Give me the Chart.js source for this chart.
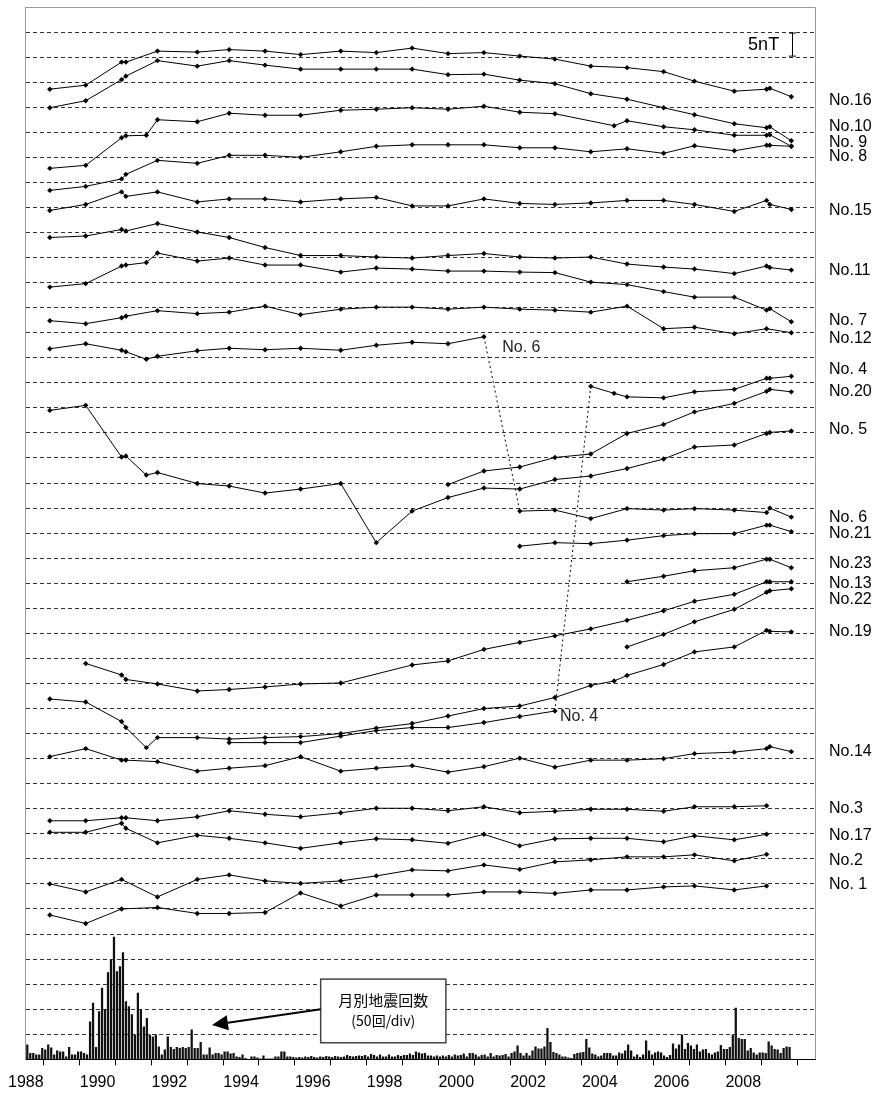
<!DOCTYPE html>
<html>
<head>
<meta charset="utf-8">
<script src="https://cdn.jsdelivr.net/npm/chart.js@4/dist/chart.umd.min.js"></script>
<style>
  html, body { margin: 0; padding: 0; background: #fff; }
  canvas { display: block; }
</style>
</head>
<body>
<canvas id="chart" width="876" height="1097"></canvas>
<script>
// Survey epochs (decimal year) shared by all magnetometer stations
const surveyYears = [1988.67, 1989.67, 1990.67, 1990.79, 1991.36, 1991.67, 1992.78, 1993.67, 1994.67, 1995.66,
  1996.78, 1997.77, 1998.77, 1999.77, 2000.77, 2001.77, 2002.75, 2003.75, 2004.4, 2004.76,
  2005.78, 2006.64, 2007.75, 2008.65, 2008.74, 2009.34];

// Total-field values per station (nT, stacked with offsets; 5 nT per division), null = not surveyed
const no16 = [193.6, 194.4, 199.0, 199.0, null, 201.2, 201.0, 201.5, 201.2, 200.5, 201.2, 200.9, 201.8, 200.7, 200.9, 200.2, 199.6, 198.2, null, 197.9, 197.1, 195.2, 193.2, 193.6, 193.8, 192.1];
const no10 = [189.9, 191.3, 195.5, 196.2, null, 199.3, 198.2, 199.3, 198.4, 197.6, 197.6, 197.6, 197.6, 196.5, 196.6, 195.4, 194.7, 192.7, null, 191.6, 189.9, 188.5, 186.7, 185.9, 186.1, 183.3];
const no9  = [177.8, 178.4, 183.9, 184.3, 184.4, 187.5, 187.1, 188.8, 188.4, 188.4, 189.4, 189.6, 189.9, 189.6, 190.2, 189.0, 188.7, null, 186.3, 187.3, 186.1, 185.5, 184.4, 184.4, 184.5, 182.2];
const no8  = [173.4, 174.2, 175.7, 176.6, null, 179.4, 178.8, 180.4, 180.4, 180.0, 181.1, 182.2, 182.5, 182.5, 182.5, 181.9, 181.9, 181.1, null, 181.7, 180.8, 182.3, 181.3, 182.4, 182.4, 182.2];
const no15 = [169.4, 170.6, 173.1, 172.2, null, 173.1, 171.1, 171.7, 171.7, 171.1, 171.7, 172.0, 170.3, 170.3, 171.7, 170.8, 170.6, 170.9, null, 171.4, 171.4, 170.6, 169.2, 171.4, 170.6, 169.6];
const no11 = [164.0, 164.3, 165.6, 165.3, null, 166.8, 165.1, 164.0, 162.0, 160.4, 160.4, 160.1, 159.9, 160.4, 160.8, 160.1, 159.9, 160.1, null, 158.7, 158.1, 157.7, 156.8, 158.3, 158.0, 157.5];
const no7  = [154.1, 154.8, 158.3, 158.5, 159.0, 160.9, 159.3, 159.9, 158.5, 158.5, 157.1, 157.9, 157.7, 157.3, 157.3, 157.1, 157.0, 155.1, null, 154.6, 153.2, 152.1, 152.1, 149.5, 149.8, 147.2];
const no12 = [147.4, 146.8, 148.0, 148.3, null, 149.4, 148.8, 149.1, 150.3, 148.6, 149.7, 150.1, 150.1, 149.7, 150.1, 149.7, 149.5, 149.1, null, 150.3, 145.8, 146.1, 144.8, 145.8, null, 145.0];
const no6  = [141.8, 142.8, 141.5, 141.2, 139.7, 140.3, 141.4, 141.9, 141.6, 141.9, 141.5, 142.5, 143.1, 142.8, 144.2, 109.4, 109.6, 107.9, null, 109.9, 109.6, 109.9, 109.6, 109.1, 110.0, 108.2];
const no4  = [null, null, null, null, null, null, null, 63.2, 63.2, 63.2, 64.5, 65.6, 66.2, 66.2, 67.2, 68.4, 69.5, 134.3, 132.9, 132.2, 132.0, 133.2, 133.7, 135.9, 135.9, 136.3];
const no20 = [null, null, null, null, null, null, null, null, null, null, null, null, null, 114.7, 117.4, 118.2, 120.1, 120.8, null, 124.9, 126.7, 129.2, 130.9, 133.3, 133.7, 133.2];
const no5  = [129.5, 130.5, 120.2, 120.4, 116.6, 117.1, 114.9, 114.4, 113.0, 113.8, 114.9, 103.1, 109.4, 112.1, 114.0, 113.8, 115.7, 116.4, null, 117.9, 119.8, 122.2, 122.6, 124.9, 125.1, 125.4];
const no21 = [null, null, null, null, null, null, null, null, null, null, null, null, null, null, null, 102.4, 103.1, 102.9, null, 103.6, 104.5, 104.9, 104.9, 106.6, 106.6, 105.3];
const no23 = [null, null, null, null, null, null, null, null, null, null, null, null, null, null, null, null, null, null, null, 95.3, 96.4, 97.5, 98.1, 99.8, 99.8, 98.1];
const no13 = [null, 79.0, 76.7, 75.8, null, 74.9, 73.5, 73.8, 74.3, 74.9, 75.1, null, 78.7, 79.5, 81.8, 83.2, 84.5, 85.9, null, 87.6, 89.5, 91.4, 92.8, 95.3, 95.3, 95.3];
const no22 = [null, null, null, null, null, null, null, null, null, null, null, null, null, null, null, null, null, null, null, 82.3, 84.8, 87.3, 89.8, 93.2, 93.5, 93.9];
const no19 = [71.9, 71.3, 67.4, 66.2, 62.2, 64.2, 64.2, 63.9, 64.2, 64.4, 65.0, 66.1, 67.0, 68.5, 70.0, 70.5, 72.2, 74.6, 75.5, 76.6, 78.8, 81.3, 82.3, 85.6, 85.4, 85.3];
const no14 = [60.4, 62.0, 59.7, 59.7, null, 59.4, 57.5, 58.1, 58.6, 60.4, 57.5, 58.1, 58.6, 57.3, 58.4, 60.1, 58.3, 59.7, null, 59.7, 60.0, 61.0, 61.3, 62.0, 62.4, 61.4];
const no3  = [47.6, 47.6, 48.2, 48.2, null, 47.6, 48.4, 49.6, 48.9, 48.4, 49.2, 50.1, 50.1, 49.6, 50.4, 49.2, 49.5, 49.9, null, 49.9, 49.5, 50.4, 50.4, 50.6, null, null];
const no17 = [45.3, 45.3, 47.1, 46.1, null, 43.2, 44.7, 44.1, 43.2, 42.1, 43.2, 44.0, 43.8, 43.1, 44.9, 42.6, 44.0, 44.1, null, 44.1, 43.4, 44.6, 43.8, 44.9, null, null];
const no2  = [35.0, 33.4, 35.9, null, null, 32.4, 35.9, 36.8, 35.6, 35.1, 35.6, 36.6, 37.8, 37.6, 38.8, 37.9, 39.4, 39.8, null, 40.4, 40.4, 40.8, 39.6, 40.9, null, null];
const no1  = [28.8, 27.1, 30.0, null, null, 30.3, 29.1, 29.1, 29.3, 33.2, 30.6, 32.8, 32.8, 32.8, 33.4, 33.4, 33.1, 33.8, null, 33.8, 34.4, 34.6, 33.8, 34.6, null, null];

// Stations that were relocated: the segment starting at this epoch joins old and new site
const relocationEpochs = { 'No.6': 2000.77, 'No.4': 2002.75 };

// Station name tags on the right, and the level (nT) each is written at
const stationLabels = ['No.16', 'No.10', 'No. 9', 'No. 8', 'No.15', 'No.11', 'No. 7', 'No.12', 'No. 4', 'No.20', 'No. 5',
  'No. 6', 'No.21', 'No.23', 'No.13', 'No.22', 'No.19', 'No.14', 'No.3', 'No.17', 'No.2', 'No. 1'];
const stationLabelLevels = [191.4, 186.2, 182.9, 180.1, 169.3, 157.3, 147.4, 143.8, 137.7, 133.3, 125.7,
  108.1, 104.9, 99.0, 95.0, 91.8, 85.3, 61.4, 50.1, 44.7, 39.6, 34.9];

// Monthly earthquake counts from Jan 1988 (50 events per division)
const quakeStartYear = 1988;
const monthlyQuakes = [
  29, 12, 12, 9, 9, 22, 19, 29, 23, 9, 17, 15,
  15, 5, 24, 9, 9, 15, 15, 12, 9, 75, 112, 24,
  95, 142, 99, 173, 199, 244, 175, 185, 213, 115, 105, 89,
  49, 132, 99, 65, 82, 49, 45, 49, 25, 9, 19, 45,
  24, 20, 24, 22, 24, 22, 24, 59, 22, 22, 34, 9,
  9, 23, 9, 12, 12, 9, 15, 15, 11, 12, 5, 4,
  9, 2, 0, 5, 5, 3, 1, 7, 1, 1, 1, 5,
  5, 15, 15, 5, 5, 4, 3, 4, 3, 5, 4, 6,
  4, 3, 5, 4, 6, 5, 4, 6, 5, 4, 5, 8,
  6, 5, 6, 7, 6, 8, 5, 10, 8, 5, 9, 5,
  5, 9, 5, 5, 8, 6, 8, 8, 11, 8, 15, 13,
  11, 12, 7, 7, 5, 7, 5, 7, 5, 8, 5, 9,
  7, 8, 11, 5, 12, 12, 9, 5, 8, 9, 5, 12,
  5, 8, 7, 8, 10, 5, 12, 15, 27, 12, 7, 12,
  7, 17, 25, 21, 21, 25, 62, 34, 14, 12, 9, 5,
  5, 3, 2, 10, 12, 13, 14, 40, 23, 11, 9, 5,
  7, 12, 12, 12, 7, 7, 13, 11, 17, 29, 17, 5,
  9, 4, 9, 37, 17, 9, 13, 15, 13, 7, 4, 8,
  31, 21, 29, 49, 20, 32, 27, 20, 29, 15, 19, 20,
  12, 9, 13, 15, 28, 20, 20, 24, 49, 102, 42, 40,
  40, 17, 22, 13, 9, 13, 13, 12, 35, 27, 20, 19,
  12, 22, 25, 24
];

const stations = [
  ['No.16', no16], ['No.10', no10], ['No.9', no9], ['No.8', no8], ['No.15', no15], ['No.11', no11],
  ['No.7', no7], ['No.12', no12], ['No.6', no6], ['No.4', no4], ['No.20', no20], ['No.5', no5],
  ['No.21', no21], ['No.23', no23], ['No.13', no13], ['No.22', no22], ['No.19', no19], ['No.14', no14],
  ['No.3', no3], ['No.17', no17], ['No.2', no2], ['No.1', no1]
];

const NT_PER_DIV = 5, DIVS = 42, QUAKES_PER_DIV = 50;

const lineDatasets = stations.map(([name, vals]) => {
  const data = surveyYears.map((x, i) => ({ x, y: vals[i] })).filter(p => p.y !== null);
  const jump = relocationEpochs[name];
  return {
    label: name,
    data,
    showLine: true,
    borderColor: '#000',
    backgroundColor: '#000',
    borderWidth: 1,
    tension: 0,
    pointStyle: 'rectRot',
    pointRadius: 2.7,
    pointHoverRadius: 2.7,
    pointBorderWidth: 0,
    order: 0,
    segment: jump === undefined ? undefined : {
      borderDash: ctx => data[ctx.p0DataIndex].x === jump ? [2, 3] : undefined
    }
  };
});

const quakeDataset = {
  type: 'bar',
  label: '月別地震回数',
  data: monthlyQuakes.map((v, i) => ({ x: quakeStartYear + (i + 0.5) / 12, y: v })),
  yAxisID: 'yq',
  backgroundColor: '#111',
  borderWidth: 0,
  barThickness: 1.6,
  order: 5
};

// Text, scale bar, frame and callout drawn on top of the plot
const overlay = {
  id: 'overlay',
  afterDraw(chart) {
    const { ctx, chartArea: a, scales: { x, y } } = chart;
    ctx.save();

    // grey frame on top and right
    ctx.strokeStyle = '#9a9a9a';
    ctx.lineWidth = 1;
    ctx.beginPath();
    ctx.moveTo(a.left, a.top + 0.5);
    ctx.lineTo(a.right + 0.5, a.top + 0.5);
    ctx.lineTo(a.right + 0.5, a.bottom);
    ctx.stroke();

    // station names at the right margin
    ctx.fillStyle = '#000';
    ctx.font = '16px "Liberation Sans", Arial, sans-serif';
    ctx.textBaseline = 'middle';
    ctx.textAlign = 'left';
    stationLabels.forEach((t, i) => {
      ctx.fillText(t, a.right + 14, y.getPixelForValue(stationLabelLevels[i]));
    });

    // tags next to the relocation links
    ctx.fillStyle = '#222';
    ctx.fillText('No. 6', x.getPixelForValue(2001.28), y.getPixelForValue(142.0));
    ctx.fillText('No. 4', x.getPixelForValue(2002.89), y.getPixelForValue(68.3));

    // 5 nT scale bar between the two top grid lines
    const top = DIVS * NT_PER_DIV - NT_PER_DIV;
    const yb1 = y.getPixelForValue(top), yb2 = y.getPixelForValue(top - NT_PER_DIV);
    const xb = Math.round(x.getPixelForValue(2009.36)) + 0.5;
    ctx.strokeStyle = '#000';
    ctx.lineWidth = 1;
    ctx.beginPath();
    ctx.moveTo(xb, yb1 + 1); ctx.lineTo(xb, yb2 - 1);
    ctx.moveTo(xb - 3.5, yb1 + 1); ctx.lineTo(xb + 3.5, yb1 + 1);
    ctx.moveTo(xb - 3.5, yb2 - 1); ctx.lineTo(xb + 3.5, yb2 - 1);
    ctx.stroke();
    ctx.fillStyle = '#000';
    ctx.font = '18px "Liberation Sans", Arial, sans-serif';
    ctx.textAlign = 'right';
    ctx.fillText('5nT', x.getPixelForValue(2009.0), (yb1 + yb2) / 2);

    // callout box for the earthquake histogram
    const bx1 = x.getPixelForValue(1996.22), bx2 = x.getPixelForValue(1999.71);
    const by1 = y.getPixelForValue(16.0), by2 = y.getPixelForValue(3.3);
    ctx.fillStyle = '#fff';
    ctx.fillRect(bx1, by1, bx2 - bx1, by2 - by1);
    ctx.strokeStyle = '#444';
    ctx.lineWidth = 1.5;
    ctx.strokeRect(bx1, by1, bx2 - bx1, by2 - by1);
    ctx.fillStyle = '#000';
    ctx.textAlign = 'center';
    const cx = (bx1 + bx2) / 2;
    ctx.font = '15px "Noto Sans CJK JP", sans-serif';
    ctx.fillText('月別地震回数', cx, y.getPixelForValue(11.8));
    ctx.font = '14px "Noto Sans CJK JP", sans-serif';
    ctx.fillText('(50回/div)', cx, y.getPixelForValue(7.8));

    // arrow from the box to the bars
    const tx = x.getPixelForValue(1993.19), ty = y.getPixelForValue(6.84);
    const sx = bx1, sy = y.getPixelForValue(10.0);
    const ang = Math.atan2(ty - sy, tx - sx);
    const hl = 16, hw = 7.5;
    const hx = tx - hl * Math.cos(ang), hy = ty - hl * Math.sin(ang);
    ctx.strokeStyle = '#000';
    ctx.lineWidth = 2;
    ctx.beginPath();
    ctx.moveTo(sx, sy); ctx.lineTo(hx, hy);
    ctx.stroke();
    ctx.fillStyle = '#000';
    ctx.beginPath();
    ctx.moveTo(tx, ty);
    ctx.lineTo(hx + hw * Math.sin(ang), hy - hw * Math.cos(ang));
    ctx.lineTo(hx - hw * Math.sin(ang), hy + hw * Math.cos(ang));
    ctx.closePath();
    ctx.fill();

    ctx.restore();
  }
};

new Chart(document.getElementById('chart'), {
  type: 'scatter',
  data: { datasets: [...lineDatasets, quakeDataset] },
  options: {
    responsive: false,
    animation: false,
    devicePixelRatio: 1,
    layout: { padding: { left: 24, right: 61, top: 7, bottom: 4.5 } },
    plugins: { legend: { display: false }, tooltip: { enabled: false } },
    scales: {
      x: {
        type: 'linear',
        min: 1988,
        max: 2010,
        offset: false,
        afterFit: scale => { scale.height = 33.2; },
        grid: { display: true, drawOnChartArea: false, drawTicks: true, tickLength: 6, color: '#000' },
        border: { display: true, color: '#000', width: 1 },
        ticks: {
          stepSize: 1,
          autoSkip: false,
          maxRotation: 0,
          padding: 8,
          color: '#000',
          font: { family: '"Liberation Sans", Arial, sans-serif', size: 16 },
          callback: v => (v % 2 === 0 && v < 2010) ? String(v) : ''
        }
      },
      y: {
        type: 'linear',
        min: 0,
        max: DIVS * NT_PER_DIV,
        ticks: { display: false, stepSize: NT_PER_DIV },
        grid: {
          drawTicks: false,
          tickLength: 0,
          lineWidth: 1,
          color: ctx => (ctx.tick.value <= 0 || ctx.tick.value >= DIVS * NT_PER_DIV) ? 'rgba(0,0,0,0)' : '#333'
        },
        border: { display: true, color: '#9a9a9a', width: 1, dash: [4, 3] }
      },
      yq: {
        type: 'linear',
        display: false,
        min: 0,
        max: DIVS * QUAKES_PER_DIV
      }
    }
  },
  plugins: [overlay]
});
</script>
</body>
</html>
